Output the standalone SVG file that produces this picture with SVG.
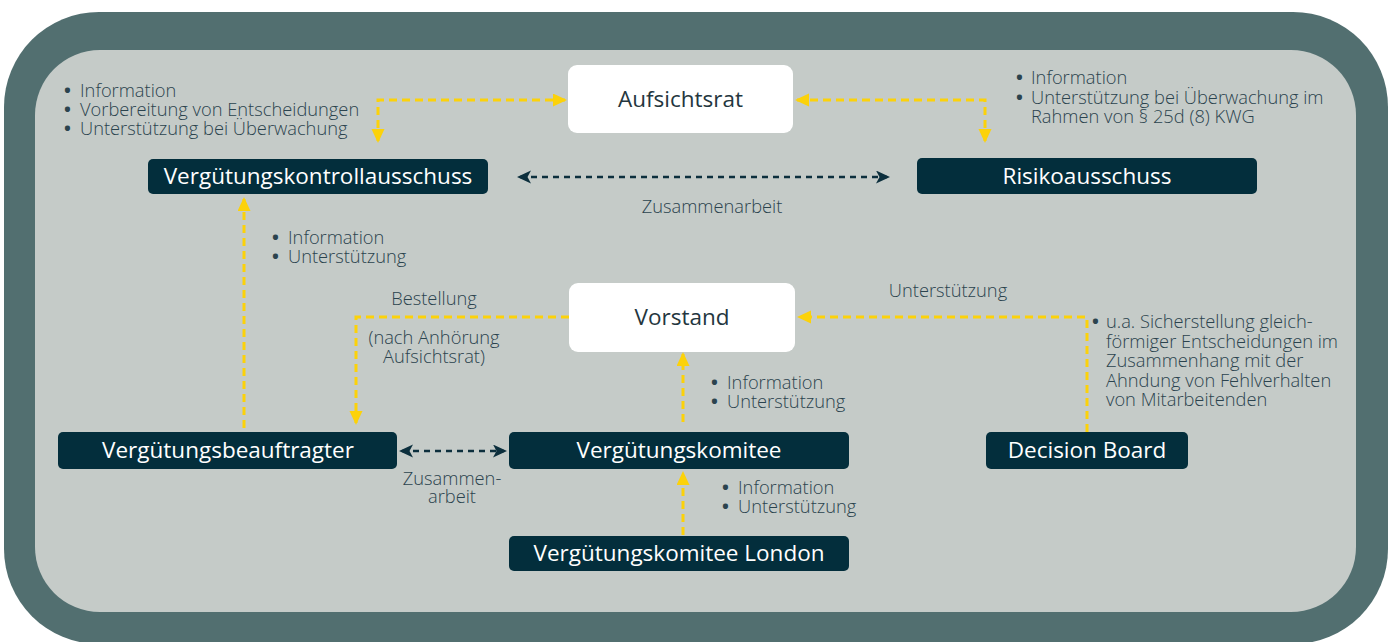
<svg xmlns="http://www.w3.org/2000/svg" width="1392" height="642" viewBox="0 0 1392 642">
<defs>
<style>
.lbl{font-family:"Open Sans","DejaVu Sans",sans-serif;font-size:18.3px;font-weight:300;fill:#2b434e}
.b{font-weight:700}
.c{text-anchor:middle}
.nd{fill:#032e3c}
.nw{fill:#ffffff}
.nt{font-family:"Open Sans","DejaVu Sans",sans-serif;font-size:22.5px;fill:#ffffff;text-anchor:middle}
.ntd{font-family:"Open Sans","DejaVu Sans",sans-serif;font-size:22.5px;fill:#24363e;text-anchor:middle}
.y{fill:none;stroke:#fcd20a;stroke-width:3;stroke-dasharray:8 5}
.d{fill:none;stroke:#0c2f3d;stroke-width:2.6;stroke-dasharray:6 5}
</style>
<marker id="ay" markerUnits="userSpaceOnUse" markerWidth="16" markerHeight="14" refX="12" refY="6.5" orient="auto-start-reverse">
<path d="M0,0 L14,6.5 L0,13 z" fill="#fcd20a"/>
</marker>
<marker id="ad" markerUnits="userSpaceOnUse" markerWidth="16" markerHeight="14" refX="11" refY="6.5" orient="auto-start-reverse">
<path d="M0,0 L14,6.5 L0,13 L3.5,6.5 z" fill="#0c2f3d"/>
</marker>
</defs>
<rect x="4" y="12" width="1384" height="632" rx="95" fill="#526f70"/>
<rect x="35" y="50" width="1321" height="562" rx="65" fill="#c5cbc8"/>

<g id="connectors">
<path class="y" d="M378,141 V100 H565" marker-start="url(#ay)" marker-end="url(#ay)"/>
<path class="y" d="M797,100 H985 V141" marker-start="url(#ay)" marker-end="url(#ay)"/>
<path class="d" d="M520,177 H887" marker-start="url(#ad)" marker-end="url(#ad)"/>
<path class="y" d="M244,428 V199" marker-end="url(#ay)"/>
<path class="y" d="M569,317 H356 V423" marker-end="url(#ay)"/>
<path class="y" d="M683,422 V354" marker-end="url(#ay)"/>
<path class="y" d="M1087,432 V317 H799" marker-end="url(#ay)"/>
<path class="d" d="M402,451 H504" marker-start="url(#ad)" marker-end="url(#ad)"/>
<path class="y" d="M683,535 V473" marker-end="url(#ay)"/>
</g>

<g id="aufsichtsrat">
<rect class="nw" x="568" y="65" width="225" height="68" rx="9"/>
<text class="ntd" x="680.5" y="107">Aufsichtsrat</text>
</g>
<g id="verguetungskontrollausschuss">
<rect class="nd" x="148" y="159" width="340" height="35" rx="5"/>
<text class="nt" x="318" y="184">Vergütungskontrollausschuss</text>
</g>
<g id="risikoausschuss">
<rect class="nd" x="917" y="158" width="340" height="36" rx="5"/>
<text class="nt" x="1087" y="184">Risikoausschuss</text>
</g>
<g id="vorstand">
<rect class="nw" x="569" y="283" width="226" height="69" rx="9"/>
<text class="ntd" x="682" y="325">Vorstand</text>
</g>
<g id="verguetungsbeauftragter">
<rect class="nd" x="58" y="432" width="339" height="37" rx="5"/>
<text class="nt" x="228" y="458">Vergütungsbeauftragter</text>
</g>
<g id="verguetungskomitee">
<rect class="nd" x="509" y="432" width="340" height="37" rx="5"/>
<text class="nt" x="679" y="458">Vergütungskomitee</text>
</g>
<g id="verguetungskomitee-london">
<rect class="nd" x="509" y="536" width="340" height="35" rx="5"/>
<text class="nt" x="679" y="561">Vergütungskomitee London</text>
</g>
<g id="decision-board">
<rect class="nd" x="986" y="432" width="202" height="37" rx="5"/>
<text class="nt" x="1087" y="458">Decision Board</text>
</g>

<g id="labels">
<text class="lbl"><tspan class="b" x="64" y="97">•</tspan><tspan x="80" y="97">Information</tspan><tspan class="b" x="64" y="116">•</tspan><tspan x="80" y="116">Vorbereitung von Entscheidungen</tspan><tspan class="b" x="64" y="135">•</tspan><tspan x="80" y="135">Unterstützung bei Überwachung</tspan></text>

<text class="lbl"><tspan class="b" x="1016" y="84">•</tspan><tspan x="1031" y="84">Information</tspan><tspan class="b" x="1016" y="104">•</tspan><tspan x="1031" y="104">Unterstützung bei Überwachung im</tspan><tspan x="1031" y="123">Rahmen von § 25d (8) KWG</tspan></text>

<text class="lbl c" x="712" y="213">Zusammenarbeit</text>

<text class="lbl"><tspan class="b" x="272" y="244">•</tspan><tspan x="288" y="244">Information</tspan><tspan class="b" x="272" y="263">•</tspan><tspan x="288" y="263">Unterstützung</tspan></text>

<text class="lbl c" x="434" y="305">Bestellung</text>
<text class="lbl c"><tspan x="434" y="344">(nach Anhörung</tspan><tspan x="434" y="363">Aufsichtsrat)</tspan></text>

<text class="lbl c" x="948" y="297">Unterstützung</text>

<text class="lbl"><tspan class="b" x="711" y="389">•</tspan><tspan x="727" y="389">Information</tspan><tspan class="b" x="711" y="408">•</tspan><tspan x="727" y="408">Unterstützung</tspan></text>

<text class="lbl"><tspan class="b" x="1092" y="328">•</tspan><tspan x="1106" y="328">u.a. Sicherstellung gleich-</tspan><tspan x="1106" y="348">förmiger Entscheidungen im</tspan><tspan x="1106" y="367">Zusammenhang mit der</tspan><tspan x="1106" y="387">Ahndung von Fehlverhalten</tspan><tspan x="1106" y="406">von Mitarbeitenden</tspan></text>

<text class="lbl c"><tspan x="452" y="485">Zusammen-</tspan><tspan x="452" y="503">arbeit</tspan></text>

<text class="lbl"><tspan class="b" x="722" y="494">•</tspan><tspan x="738" y="494">Information</tspan><tspan class="b" x="722" y="513">•</tspan><tspan x="738" y="513">Unterstützung</tspan></text>
</g>
</svg>
